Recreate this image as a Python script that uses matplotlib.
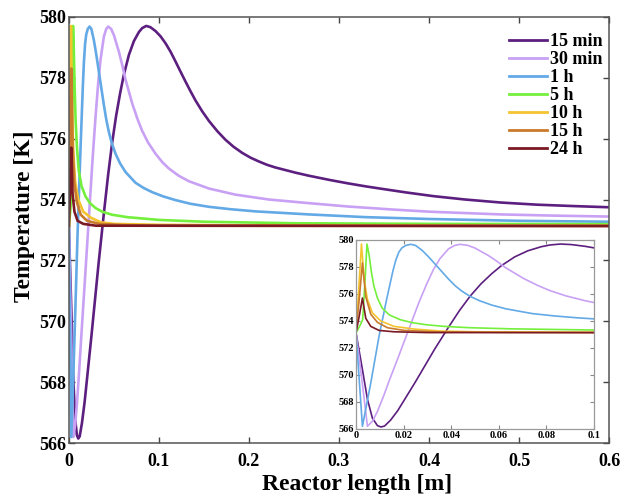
import matplotlib
matplotlib.use("Agg")
import matplotlib.pyplot as plt

plt.rcParams['font.family'] = ['Liberation Serif', 'DejaVu Serif']
plt.rcParams['font.weight'] = 'bold'

# Perfis de temperatura ao longo do reator para cada tempo de operação
labels = ["15 min", "30 min", "1 h", "5 h", "10 h", "15 h", "24 h"]
cores = ["#5c1f7f", "#c9a1f4", "#62a9e6", "#74f03c", "#f4c430", "#c97a2c", "#7b1a24"]

x_15min = [0, 0.0027, 0.0048, 0.0069, 0.009, 0.0105, 0.012, 0.0145, 0.0175, 0.021,
           0.025, 0.029, 0.033, 0.0389, 0.0435, 0.048, 0.0525, 0.057, 0.0611, 0.0667,
           0.0722, 0.0778, 0.0815, 0.0859, 0.0905, 0.0963, 0.1018, 0.1074, 0.113, 0.1185,
           0.124, 0.1296, 0.1352, 0.1407, 0.148, 0.1556, 0.165, 0.174, 0.183, 0.1926,
           0.202, 0.211, 0.22, 0.2296, 0.2519, 0.2667, 0.29, 0.31, 0.33, 0.35, 0.375,
           0.405, 0.44, 0.48, 0.52, 0.56, 0.6]
T_15min = [573.13, 570.4, 568.2, 566.8, 566.25, 566.15, 566.22, 566.65, 567.35, 568.35,
           569.5, 570.7, 571.9, 573.55, 574.78, 575.85, 576.75, 577.5, 578.1, 578.75,
           579.2, 579.5, 579.63, 579.7, 579.66, 579.53, 579.36, 579.13, 578.85, 578.53,
           578.2, 577.87, 577.55, 577.25, 576.9, 576.58, 576.24, 575.96, 575.73, 575.53,
           575.37, 575.25, 575.14, 575.05, 574.88, 574.78, 574.64, 574.53, 574.43, 574.34, 574.23,
           574.11, 574.0, 573.9, 573.83, 573.785, 573.745]

x_30min = [0, 0.0025, 0.0048, 0.007, 0.009, 0.0115, 0.014, 0.0175, 0.0205, 0.0235,
           0.0265, 0.0296, 0.0325, 0.0352, 0.0389, 0.0415, 0.0437, 0.047, 0.05, 0.0556,
           0.059, 0.063, 0.0704, 0.0765, 0.0815, 0.088, 0.0963, 0.104, 0.111, 0.122,
           0.1333, 0.1556, 0.185, 0.222, 0.2667, 0.31, 0.36, 0.4, 0.48, 0.54, 0.6]
T_30min = [573.13, 569.6, 566.2, 566.6, 567.3, 568.4, 569.6, 571.2, 572.6, 574.0,
           575.4, 576.7, 577.8, 578.6, 579.35, 579.6, 579.68, 579.6, 579.4, 578.85,
           578.45, 577.93, 577.15, 576.62, 576.25, 575.87, 575.5, 575.22, 575.02, 574.78,
           574.6, 574.36, 574.16, 574.0, 573.88, 573.77, 573.67, 573.6, 573.51, 573.47, 573.44]

x_1h = [0, 0.0027, 0.0062, 0.0097, 0.013, 0.0155, 0.0167, 0.018, 0.0193, 0.021,
        0.023, 0.025, 0.0278, 0.0305, 0.0333, 0.0389, 0.0416, 0.0444, 0.048, 0.0519,
        0.057, 0.063, 0.074, 0.083, 0.0926, 0.105, 0.1185, 0.135, 0.1556, 0.18,
        0.2074, 0.2667, 0.33, 0.4, 0.5, 0.6]
T_1h = [573.13, 566.2, 569.4, 572.9, 575.71, 577.7, 578.5, 579.1, 579.42, 579.6,
        579.68, 579.6, 579.23, 578.75, 578.2, 577.1, 576.62, 576.22, 575.82, 575.5,
        575.18, 574.9, 574.55, 574.38, 574.24, 574.1, 573.98, 573.86, 573.76, 573.68,
        573.61, 573.51, 573.42, 573.36, 573.3, 573.27]

x_5h = [0, 0.0015, 0.0028, 0.0038, 0.0046, 0.0055, 0.0065, 0.0075, 0.009, 0.011,
        0.014, 0.0185, 0.0235, 0.0296, 0.037, 0.048, 0.065, 0.1, 0.15, 0.25, 0.4, 0.6]
T_5h = [573.13, 573.6, 574.1, 577.0, 579.7, 578.9, 577.6, 576.6, 575.7, 574.95,
        574.45, 574.1, 573.88, 573.72, 573.6, 573.5, 573.42, 573.33, 573.27, 573.22,
        573.2, 573.19]

x_10h = [0, 0.0012, 0.0023, 0.0034, 0.0048, 0.0069, 0.0104, 0.016, 0.0245, 0.0358,
         0.05, 0.1, 0.2, 0.6]
T_10h = [573.13, 576.5, 579.7, 577.1, 575.6, 574.6, 574.0, 573.6, 573.4, 573.25,
         573.2, 573.17, 573.15, 573.14]

x_15h = [0, 0.0014, 0.0027, 0.0041, 0.0062, 0.009, 0.0132, 0.0203, 0.034, 0.06, 0.1, 0.6]
T_15h = [573.13, 575.7, 578.3, 575.8, 574.5, 573.9, 573.5, 573.3, 573.2, 573.16, 573.14, 573.13]

x_24h = [0, 0.0014, 0.0027, 0.0041, 0.0062, 0.0097, 0.016, 0.03, 0.6]
T_24h = [573.13, 574.4, 575.7, 574.2, 573.6, 573.3, 573.2, 573.14, 573.13]

series_x = [x_15min, x_30min, x_1h, x_5h, x_10h, x_15h, x_24h]
series_T = [T_15min, T_30min, T_1h, T_5h, T_10h, T_15h, T_24h]

main_xticks = [0, 0.1, 0.2, 0.3, 0.4, 0.5, 0.6]
main_xlabels = ["0", "0.1", "0.2", "0.3", "0.4", "0.5", "0.6"]
inset_xticks = [0, 0.02, 0.04, 0.06, 0.08, 0.1]
inset_xlabels = ["0", "0.02", "0.04", "0.06", "0.08", "0.1"]
yticks = [566, 568, 570, 572, 574, 576, 578, 580]

fig = plt.figure(figsize=(6.26, 4.94), dpi=100)
ax = fig.add_axes([0.110, 0.103, 0.863, 0.863])

for xs, Ts, lab, cor in zip(series_x, series_T, labels, cores):
    ax.plot(xs, Ts, color=cor, lw=1.9, label=lab)

ax.set_xlim(0, 0.6)
ax.set_ylim(566, 580)
ax.set_xticks(main_xticks)
ax.set_xticklabels(main_xlabels)
ax.set_yticks(yticks)
ax.tick_params(direction='in', length=4, width=1, top=True, right=True,
               labelsize=13, colors='#444444', labelcolor='black')
ax.tick_params(axis='x', pad=7)
ax.tick_params(axis='y', pad=2)
for s in ax.spines.values():
    s.set_color('#555555')
    s.set_linewidth(1.1)
ax.set_xlabel("Reactor length [m]", fontsize=17, fontweight='bold')
ax.set_ylabel("Temperature [K]", fontsize=17, fontweight='bold')
ax.xaxis.set_label_coords(0.533, -0.072)
ax.yaxis.set_label_coords(-0.062, 0.532)

leg = ax.legend(loc='upper right', bbox_to_anchor=(1.011, 0.9906), frameon=False,
                fontsize=13, handlelength=2.1, handletextpad=0.15, labelspacing=0.05,
                borderaxespad=0.3)
for ln in leg.get_lines():
    ln.set_linewidth(2.0)

# Detalhe da entrada do reator
axin = fig.add_axes([0.5687, 0.1316, 0.3802, 0.3826])
for xs, Ts, cor in zip(series_x, series_T, cores):
    axin.plot(xs, Ts, color=cor, lw=1.2)
axin.set_xlim(0, 0.1)
axin.set_ylim(566, 580)
axin.set_xticks(inset_xticks)
axin.set_xticklabels(inset_xlabels)
axin.set_yticks(yticks)
axin.tick_params(direction='in', length=3, width=0.8, top=True, right=True,
                 labelsize=7.5, colors='#888888', labelcolor='black', pad=1.5)
for s in axin.spines.values():
    s.set_color('#999999')
    s.set_linewidth(0.9)

fig.savefig("out.png", dpi=100)
